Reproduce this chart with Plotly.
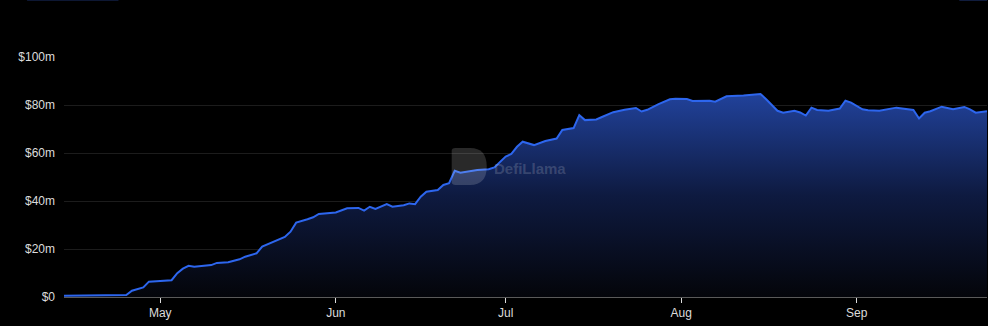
import plotly.graph_objects as go

dates = [
    "2023-04-14", "2023-04-20", "2023-04-22", "2023-04-25", "2023-04-26", "2023-04-27",
    "2023-04-28", "2023-04-29", "2023-05-01", "2023-05-03", "2023-05-04", "2023-05-05",
    "2023-05-06", "2023-05-07", "2023-05-10", "2023-05-11", "2023-05-13", "2023-05-15",
    "2023-05-16", "2023-05-18", "2023-05-19", "2023-05-21", "2023-05-23", "2023-05-24",
    "2023-05-25", "2023-05-27", "2023-05-28", "2023-05-29", "2023-05-31", "2023-06-01",
    "2023-06-03", "2023-06-05", "2023-06-06", "2023-06-07", "2023-06-08", "2023-06-10",
    "2023-06-11", "2023-06-13", "2023-06-14", "2023-06-15", "2023-06-16", "2023-06-17",
    "2023-06-19", "2023-06-20", "2023-06-21", "2023-06-22", "2023-06-23", "2023-06-25",
    "2023-06-26", "2023-06-28", "2023-06-29", "2023-07-01", "2023-07-02", "2023-07-03",
    "2023-07-04", "2023-07-06", "2023-07-08", "2023-07-10", "2023-07-11", "2023-07-13",
    "2023-07-14", "2023-07-15", "2023-07-17", "2023-07-18", "2023-07-20", "2023-07-22",
    "2023-07-24", "2023-07-25", "2023-07-26", "2023-07-28", "2023-07-30", "2023-07-31",
    "2023-08-02", "2023-08-03", "2023-08-06", "2023-08-07", "2023-08-09", "2023-08-12",
    "2023-08-15", "2023-08-16", "2023-08-18", "2023-08-19", "2023-08-21", "2023-08-22",
    "2023-08-23", "2023-08-24", "2023-08-25", "2023-08-27", "2023-08-29", "2023-08-30",
    "2023-08-31", "2023-09-02", "2023-09-03", "2023-09-05", "2023-09-07", "2023-09-08",
    "2023-09-11", "2023-09-12", "2023-09-13", "2023-09-14", "2023-09-16", "2023-09-18",
    "2023-09-20", "2023-09-21", "2023-09-22", "2023-09-24",
]
tvl_m = [
    0.5, 0.6, 0.8, 0.8, 2.6, 3.4,
    4.0, 6.4, 6.6, 7.0, 9.9, 11.8,
    13.0, 12.6, 13.3, 14.2, 14.5, 15.7,
    16.8, 18.2, 21.0, 23.0, 25.0, 27.2,
    31.0, 32.4, 33.2, 34.6, 35.1, 35.2,
    37.0, 37.1, 36.0, 37.6, 36.7, 38.7,
    37.6, 38.2, 39.0, 38.7, 41.8, 43.9,
    44.6, 46.7, 47.4, 52.6, 51.8, 52.6,
    52.9, 53.2, 54.0, 58.5, 59.6, 62.6,
    64.7, 63.3, 65.0, 66.0, 69.6, 70.4,
    75.8, 73.7, 74.0, 75.0, 77.0, 78.0,
    78.75, 77.3, 78.0, 80.4, 82.4, 82.6,
    82.5, 81.7, 81.8, 81.4, 83.6, 84.0,
    84.6, 82.4, 77.6, 76.8, 77.6, 76.9,
    75.6, 78.9, 77.9, 77.6, 78.5, 81.8,
    81.0, 78.2, 77.8, 77.6, 78.3, 78.9,
    77.9, 74.4, 76.8, 77.4, 79.3, 78.2,
    79.2, 78.2, 76.8, 77.4,
]
y_ticks = [0, 20, 40, 60, 80, 100]
y_tick_labels = ["$0", "$20m", "$40m", "$60m", "$80m", "$100m"]
x_ticks = ["2023-05-01", "2023-06-01", "2023-07-01", "2023-08-01", "2023-09-01"]
x_tick_labels = ["May", "Jun", "Jul", "Aug", "Sep"]

fig = go.Figure()
fig.add_trace(go.Scatter(
    x=dates, y=tvl_m, mode="lines",
    line=dict(color="#2d66ee", width=2),
    fill="tozeroy",
    fillgradient=dict(type="vertical",
                      colorscale=[[0, "rgb(4,5,10)"], [0.5, "rgb(14,26,64)"], [1, "rgb(33,66,155)"]]),
    hoverinfo="skip",
))

logo = ("M 0.424 0.621 L 0.440 0.621 Q 0.458 0.621 0.458 0.544 "
        "Q 0.458 0.467 0.440 0.467 L 0.424 0.467 Q 0.420 0.467 0.420 0.48 "
        "L 0.420 0.608 Q 0.420 0.621 0.424 0.621 Z")

fig.update_layout(
    width=988, height=326,
    margin=dict(l=64, r=1, t=57, b=29),
    paper_bgcolor="#000000", plot_bgcolor="#000000",
    showlegend=False,
    font=dict(family="Liberation Sans, Arial, sans-serif", size=12, color="#dcdcdc"),
    xaxis=dict(
        range=[dates[0], dates[-1]],
        tickvals=x_ticks, ticktext=x_tick_labels,
        showgrid=False, zeroline=False,
        showline=True, linecolor="#5a5a5a", linewidth=1,
        ticks="outside", ticklen=5, tickcolor="#dcdcdc", tickwidth=1,
        tickfont=dict(size=12, color="#dcdcdc"),
    ),
    yaxis=dict(
        range=[0, 100],
        tickvals=y_ticks, ticktext=y_tick_labels,
        showgrid=True, gridcolor="#1c1c1c", gridwidth=1,
        zeroline=False, showline=False,
        ticks="", ticklabelstandoff=8,
        tickfont=dict(size=12, color="#dcdcdc"),
    ),
    shapes=[
        dict(type="rect", xref="paper", yref="paper", x0=-0.04, x1=0.059, y0=1.235, y1=1.25,
             fillcolor="#1b2f66", line=dict(width=0)),
        dict(type="rect", xref="paper", yref="paper", x0=0.97, x1=1.0, y0=1.235, y1=1.25,
             fillcolor="#1b2f66", line=dict(width=0)),
        dict(type="path", xref="paper", yref="paper", path=logo,
             fillcolor="rgba(255,255,255,0.16)", line=dict(width=0)),
    ],
    annotations=[
        dict(text="<b>DefiLlama</b>", xref="paper", yref="paper", x=0.464, y=0.535,
             xanchor="left", yanchor="middle", showarrow=False,
             font=dict(family="Liberation Sans, Arial, sans-serif", size=15,
                       color="rgba(255,255,255,0.17)")),
    ],
)

fig.write_html("out.html")
